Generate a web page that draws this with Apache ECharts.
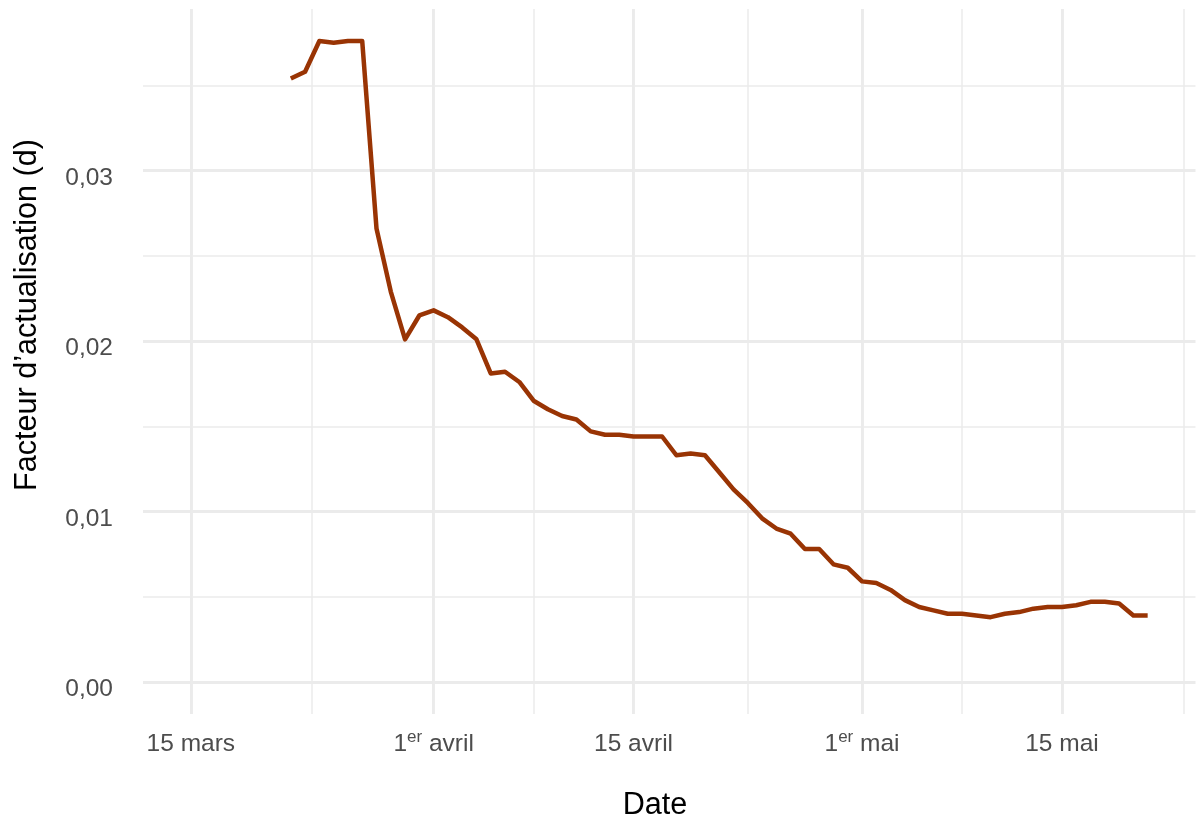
<!DOCTYPE html>
<html>
<head>
<meta charset="utf-8">
<script src="https://cdn.jsdelivr.net/npm/echarts@6/dist/echarts.min.js"></script>
<style>
html,body{margin:0;padding:0;background:#fff;}
#chart{width:1198px;height:828px;}
</style>
</head>
<body>
<div id="chart"></div>
<script>
// données
var dates = [
    '2020-03-22','2020-03-23','2020-03-24','2020-03-25','2020-03-26','2020-03-27','2020-03-28','2020-03-29','2020-03-30','2020-03-31',
    '2020-04-01','2020-04-02','2020-04-03','2020-04-04','2020-04-05','2020-04-06','2020-04-07','2020-04-08','2020-04-09','2020-04-10',
    '2020-04-11','2020-04-12','2020-04-13','2020-04-14','2020-04-15','2020-04-16','2020-04-17','2020-04-18','2020-04-19','2020-04-20',
    '2020-04-21','2020-04-22','2020-04-23','2020-04-24','2020-04-25','2020-04-26','2020-04-27','2020-04-28','2020-04-29','2020-04-30',
    '2020-05-01','2020-05-02','2020-05-03','2020-05-04','2020-05-05','2020-05-06','2020-05-07','2020-05-08','2020-05-09','2020-05-10',
    '2020-05-11','2020-05-12','2020-05-13','2020-05-14','2020-05-15','2020-05-16','2020-05-17','2020-05-18','2020-05-19','2020-05-20',
    '2020-05-21'
];
var values = [
    0.0354, 0.0358, 0.0376, 0.0375, 0.0376, 0.0376, 0.0266, 0.0229, 0.0201, 0.0215,
    0.0218, 0.0214, 0.0208, 0.0201, 0.0181, 0.0182, 0.0176, 0.0165, 0.0160, 0.0156,
    0.0154, 0.0147, 0.0145, 0.0145, 0.0144, 0.0144, 0.0144, 0.0133, 0.0134, 0.0133,
    0.0123, 0.0113, 0.0105, 0.0096, 0.0090, 0.0087, 0.0078, 0.0078, 0.0069, 0.0067,
    0.0059, 0.0058, 0.0054, 0.0048, 0.0044, 0.0042, 0.0040, 0.0040, 0.0039, 0.0038,
    0.0040, 0.0041, 0.0043, 0.0044, 0.0044, 0.0045, 0.0047, 0.0047, 0.0046, 0.0039,
    0.0039
];
// la série commence le 15 mars (valeurs manquantes avant le 22)
var firstDate = '2020-03-15';

var xBreaks = ['2020-03-15','2020-04-01','2020-04-15','2020-05-01','2020-05-15','2020-06-01'];
var xLabels = ['15 mars','1er avril','15 avril','1er mai','15 mai','1er juin'];
var yBreaks = [0, 0.01, 0.02, 0.03, 0.04];

var FONT = '"Liberation Sans", Arial, Helvetica, sans-serif';

function dayNum(s) {
    return (Date.parse(s + 'T00:00:00Z') - Date.parse('2020-03-01T00:00:00Z')) / 86400000;
}
function midpoints(arr) {
    var out = [];
    for (var i = 0; i < arr.length - 1; i++) out.push((arr[i] + arr[i + 1]) / 2);
    return out;
}

var xBreakNums = xBreaks.map(dayNum);
var xMinor = midpoints(xBreakNums);
var yMinor = midpoints(yBreaks);

var points = dates.map(function (d, i) { return [dayNum(d), values[i]]; });

// étendue façon ggplot (5 %)
var x0 = dayNum(firstDate), x1 = dayNum(dates[dates.length - 1]);
var xPad = (x1 - x0) * 0.05;
var y0 = 0, y1 = Math.max.apply(null, values);
var yPad = (y1 - y0) * 0.05;

var chart = echarts.init(document.getElementById('chart'), null, {renderer: 'canvas'});

var option = {
    animation: false,
    backgroundColor: '#ffffff',
    grid: {left: 143, right: 2.5, top: 9, bottom: 114, containLabel: false},
    xAxis: [
        {
            type: 'value',
            min: x0 - xPad,
            max: x1 + xPad,
            axisLine: {show: false},
            axisTick: {show: false, customValues: xBreakNums},
            splitLine: {show: true, lineStyle: {color: '#EBEBEB', width: 2.9}},
            axisLabel: {
                customValues: xBreakNums,
                margin: 15,
                formatter: function (v) {
                    var i = xBreakNums.indexOf(v);
                    var lab = i >= 0 ? xLabels[i] : '';
                    if (lab.indexOf('1er') === 0) {
                        return '{n|1}{s|er}{n|' + lab.slice(3) + '}';
                    }
                    return '{n|' + lab + '}';
                },
                rich: {
                    n: {fontFamily: FONT, fontSize: 24.5, color: '#4D4D4D', lineHeight: 30},
                    s: {fontFamily: FONT, fontSize: 17, color: '#4D4D4D', lineHeight: 17, verticalAlign: 'top'}
                }
            }
        },
        {
            type: 'value',
            min: x0 - xPad,
            max: x1 + xPad,
            position: 'bottom',
            axisLine: {show: false},
            axisTick: {show: false, customValues: xMinor},
            axisLabel: {show: false, customValues: xMinor},
            splitLine: {show: true, lineStyle: {color: '#EBEBEB', width: 1.5}}
        }
    ],
    yAxis: [
        {
            type: 'value',
            min: y0 - yPad,
            max: y1 + yPad,
            axisLine: {show: false},
            axisTick: {show: false, customValues: yBreaks},
            splitLine: {show: true, lineStyle: {color: '#EBEBEB', width: 2.9}},
            axisLabel: {
                customValues: yBreaks,
                margin: 30,
                fontFamily: FONT,
                fontSize: 24.5,
                color: '#4D4D4D',
                verticalAlign: 'top',
                lineHeight: 15,
                formatter: function (v) { return v.toFixed(2).replace('.', ','); }
            }
        },
        {
            type: 'value',
            min: y0 - yPad,
            max: y1 + yPad,
            position: 'left',
            axisLine: {show: false},
            axisTick: {show: false, customValues: yMinor},
            axisLabel: {show: false, customValues: yMinor},
            splitLine: {show: true, lineStyle: {color: '#EBEBEB', width: 1.5}}
        }
    ],
    graphic: [
        {
            type: 'text',
            x: 655, y: 806,
            style: {text: 'Date', fontFamily: FONT, fontSize: 30.6, fill: '#000000', align: 'center', verticalAlign: 'middle'}
        },
        {
            type: 'text',
            x: 28, y: 315,
            rotation: Math.PI / 2,
            style: {text: 'Facteur d\u2019actualisation (d)', fontFamily: FONT, fontSize: 30.6, fill: '#000000', align: 'center', verticalAlign: 'middle'}
        }
    ],
    series: [
        {
            type: 'line',
            xAxisIndex: 0,
            yAxisIndex: 0,
            data: points,
            showSymbol: false,
            symbol: 'none',
            lineStyle: {color: '#993404', width: 4.5, join: 'round', cap: 'butt'},
            z: 5
        }
    ]
};

chart.setOption(option);
</script>
</body>
</html>
